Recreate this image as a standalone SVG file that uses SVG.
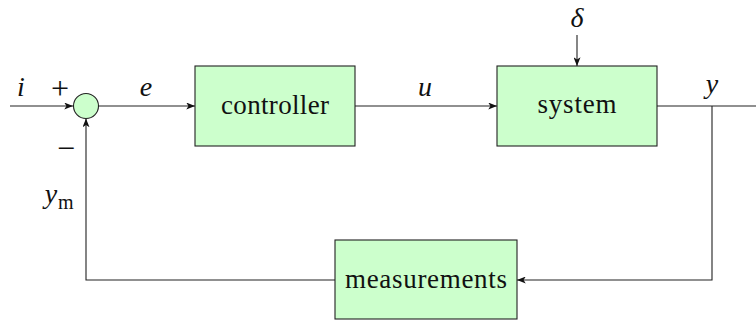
<svg xmlns="http://www.w3.org/2000/svg" width="756" height="320" viewBox="0 0 756 320">
  <style>
    .block { fill: #ccffcc; stroke: #222; stroke-width: 1.1; }
    .wire { fill: none; stroke: #222; stroke-width: 1.1; }
    .lbl { font-family: "Liberation Serif", "DejaVu Serif", serif; font-size: 27px; fill: #111; text-anchor: middle; }
    .sign { font-family: "Liberation Serif", "DejaVu Serif", serif; font-size: 32px; fill: #111; text-anchor: middle; }
    .math { font-family: "Liberation Serif", "DejaVu Serif", serif; font-size: 28px; font-style: italic; fill: #111; text-anchor: middle; }
    .sub { font-family: "Liberation Serif", "DejaVu Serif", serif; font-size: 20px; fill: #111; }
  </style>
  <defs>
    <marker id="arrow" viewBox="0 0 10 8" refX="10" refY="4" markerWidth="9" markerHeight="7" markerUnits="userSpaceOnUse" orient="auto">
      <path d="M0,0 L10,4 L0,8 L2.5,4 Z" fill="#111"/>
    </marker>
  </defs>

  <!-- signal lines -->
  <g id="connectors">
    <line class="wire" x1="10" y1="106" x2="73" y2="106" marker-end="url(#arrow)"/>
    <line class="wire" x1="99" y1="106" x2="195" y2="106" marker-end="url(#arrow)"/>
    <line class="wire" x1="355" y1="106" x2="497" y2="106" marker-end="url(#arrow)"/>
    <line class="wire" x1="577" y1="35" x2="577" y2="66" marker-end="url(#arrow)"/>
    <line class="wire" x1="657" y1="106" x2="756" y2="106"/>
    <polyline class="wire" points="712,106 712,280 517,280" marker-end="url(#arrow)"/>
    <polyline class="wire" points="335,280 86,280 86,118.5" marker-end="url(#arrow)"/>
  </g>

  <!-- summing junction -->
  <g id="sum">
    <circle class="block" cx="86" cy="106" r="12.5"/>
    <text class="sign" x="60" y="99">+</text>
    <text class="sign" x="66" y="159">−</text>
  </g>

  <g id="controller">
    <rect class="block" x="195" y="66" width="160" height="80"/>
    <text class="lbl" x="275" y="114" textLength="108" lengthAdjust="spacing">controller</text>
  </g>

  <g id="system">
    <rect class="block" x="497" y="66" width="160" height="80"/>
    <text class="lbl" x="577" y="113" textLength="79" lengthAdjust="spacing">system</text>
  </g>

  <g id="measurements">
    <rect class="block" x="335" y="240" width="182" height="79"/>
    <text class="lbl" x="426" y="288" textLength="162" lengthAdjust="spacing">measurements</text>
  </g>

  <!-- signal names -->
  <g id="labels">
    <text class="math" x="21" y="96">i</text>
    <text class="math" x="146" y="96">e</text>
    <text class="math" x="425" y="96">u</text>
    <text class="math" x="712" y="93">y</text>
    <text class="math" x="577" y="27">δ</text>
    <text class="math" x="51" y="203">y</text>
    <text class="sub" x="58" y="209">m</text>
  </g>
</svg>
